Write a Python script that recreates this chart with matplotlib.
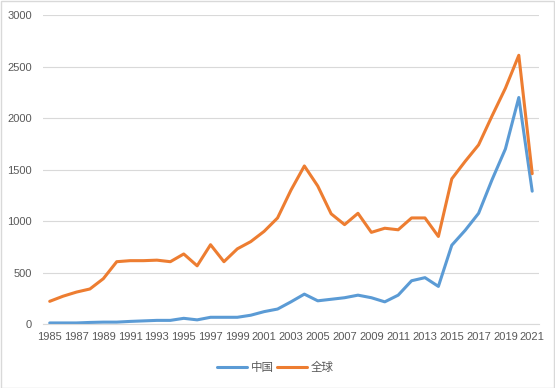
import matplotlib.pyplot as plt
import numpy as np

years = list(range(1985, 2022))
china = [10, 10, 10, 15, 18, 18, 25, 30, 35, 35, 55, 40, 65, 65, 65, 85, 120, 145,
         215, 290, 225, 240, 255, 280, 255, 215, 280, 420, 450, 365, 765, 910, 1075,
         1400, 1700, 2200, 1290]
world = [220, 270, 310, 340, 440, 605, 615, 615, 620, 605, 680, 565, 770, 605, 730,
         800, 900, 1030, 1300, 1535, 1340, 1070, 965, 1075, 890, 930, 915, 1030, 1030,
         850, 1410, 1580, 1740, 2020, 2290, 2610, 1460]

plt.rcParams['font.family'] = ['Liberation Sans', 'Noto Sans CJK SC', 'DejaVu Sans']

fig = plt.figure(figsize=(5.55, 3.88), dpi=100)
ax = fig.add_axes([0.0775, 0.165, 0.8935, 0.796])
x = np.arange(len(years))
ax.plot(x, china, color='#5B9BD5', linewidth=2.2, label='中国', solid_capstyle='round')
ax.plot(x, world, color='#ED7D31', linewidth=2.2, label='全球', solid_capstyle='round')

ax.set_xlim(-0.5, len(years) - 0.5)
ax.set_ylim(0, 3000)
ax.set_yticks(range(0, 3001, 500))
ax.set_xticks(x[::2])
ax.set_xticklabels([str(y) for y in years[::2]])
ax.tick_params(axis='both', length=0, labelsize=8, colors='#595959', pad=6)
ax.tick_params(axis='y', pad=8)
ax.grid(axis='y', color='#D9D9D9', linewidth=0.8)
ax.set_axisbelow(True)
for s in ['top', 'right', 'left']:
    ax.spines[s].set_visible(False)
ax.spines['bottom'].set_color('#D9D9D9')

leg = fig.legend(loc='center', bbox_to_anchor=(0.496, 0.052), ncol=2, frameon=False,
                 prop={'family': 'Noto Sans CJK SC', 'size': 8.3}, handlelength=2.6,
                 columnspacing=0.3, handletextpad=0.35)
for t in leg.get_texts():
    t.set_color('#595959')

fig.patches.append(plt.Rectangle((0.001, 0.001), 0.997, 0.997, transform=fig.transFigure,
                                 fill=False, edgecolor='#D9D9D9', linewidth=1))
fig.savefig('out.png', dpi=100)
